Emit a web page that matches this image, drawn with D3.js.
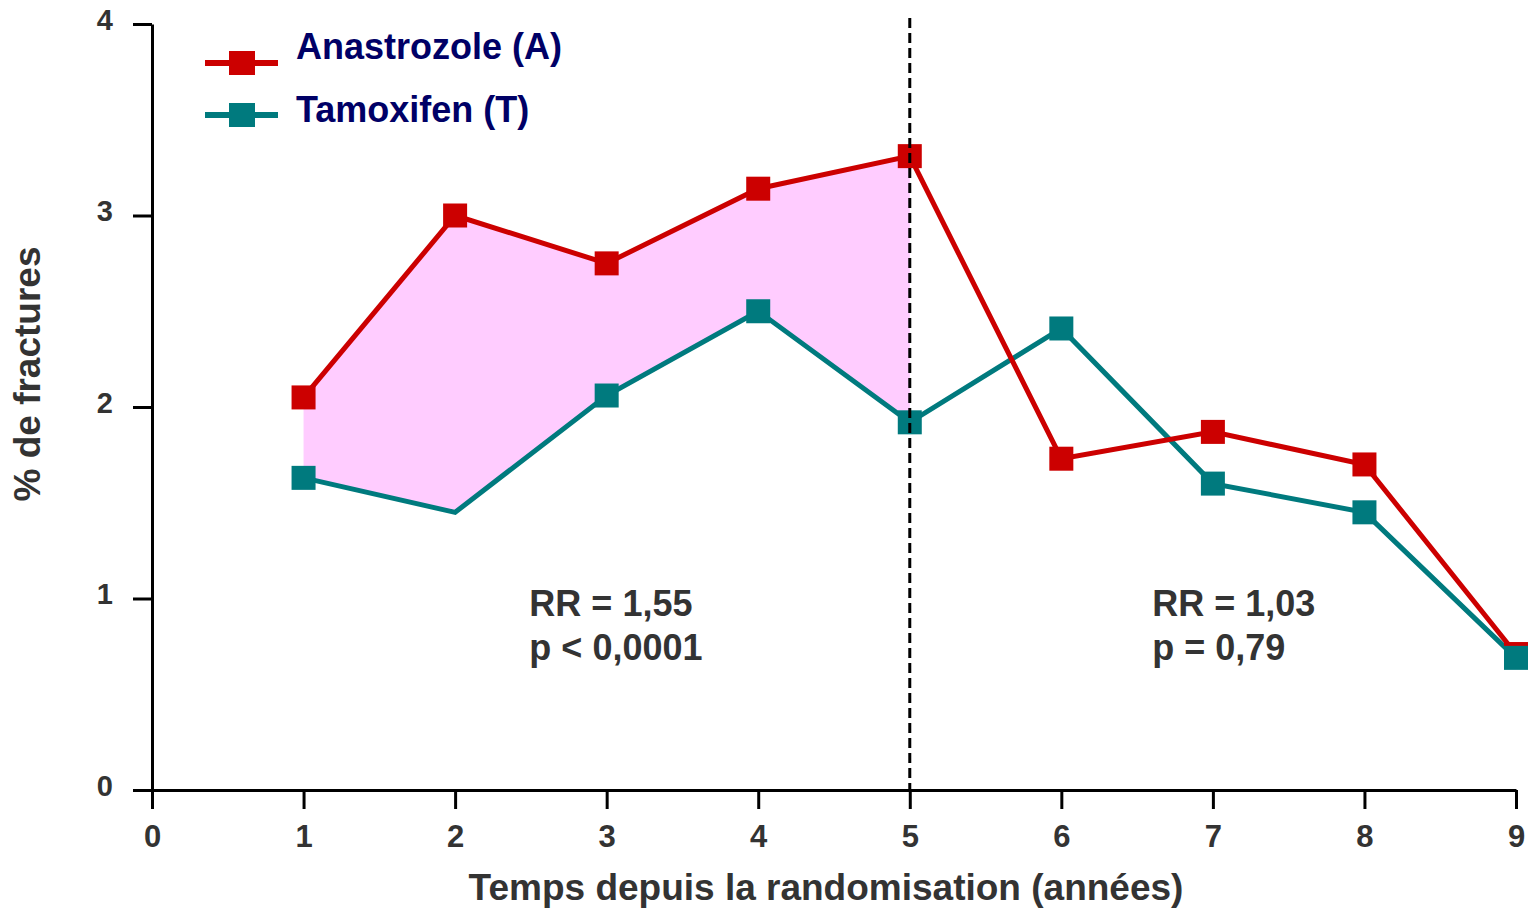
<!DOCTYPE html>
<html>
<head>
<meta charset="utf-8">
<script src="https://cdn.jsdelivr.net/npm/d3@7"></script>
<style>
  body { margin: 0; background: #fff; }
  .chart text { font-family: "Liberation Sans", Arial, sans-serif; font-weight: bold; }
</style>
</head>
<body>
<div class="chart"></div>
<script>
// data
var years = [1, 2, 3, 4, 5, 6, 7, 8, 9]
var anastrozole = [2.05, 3.0, 2.75, 3.14, 3.31, 1.73, 1.87, 1.70, 0.71]
var tamoxifen = [1.63, 1.45, 2.06, 2.50, 1.92, 2.41, 1.60, 1.45, 0.69]
var tamoxifenMarkers = [true, false, true, true, true, true, true, true, true]
var xTicks = [0, 1, 2, 3, 4, 5, 6, 7, 8, 9]
var yTicks = [0, 1, 2, 3, 4]
var legendLabels = ['Anastrozole (A)', 'Tamoxifen (T)']
var shadeYears = [1, 5]
var splitYear = 5

var margin = {top: 24, right: 14, bottom: 119, left: 152}
var width = 1530 - margin.left - margin.right
var height = 909 - margin.top - margin.bottom

var red = '#cc0000'
var teal = '#007a7e'
var grey = '#333333'

var x = d3.scaleLinear().domain([0, 9]).range([0, width])
var y = d3.scaleLinear().domain([0, 4]).range([height, 0])

var svg = d3
  .select('.chart')
  .append('svg')
  .attr('width', 1530)
  .attr('height', 909)
  .append('g')
  .attr('transform', 'translate(' + margin.left + ',' + margin.top + ')')

var dataA = years.map(function(d, i) { return {year: d, value: anastrozole[i]} })
var dataT = years.map(function(d, i) { return {year: d, value: tamoxifen[i], marker: tamoxifenMarkers[i]} })

//shaded area between the two curves for years 1-5
var inShade = function(d) { return d.year >= shadeYears[0] && d.year <= shadeYears[1] }
var shadePts = dataA.filter(inShade).concat(dataT.filter(inShade).reverse())
svg
  .append('path')
  .datum(shadePts)
  .attr('fill', '#ffccff')
  .attr('d', d3.line()
    .x(function(d) { return x(d.year) })
    .y(function(d) { return y(d.value) }))

// axes
var yAxis = svg
  .append('g')
  .call(d3.axisLeft(y).tickValues(yTicks).tickFormat(d3.format('d')).tickSize(19).tickSizeOuter(0).tickPadding(20))
var xAxis = svg
  .append('g')
  .attr('transform', 'translate(0,' + height + ')')
  .call(d3.axisBottom(x).tickValues(xTicks).tickFormat(d3.format('d')).tickSize(19).tickSizeOuter(0).tickPadding(16))
;[xAxis, yAxis].forEach(function(ax) {
  ax.selectAll('path').attr('stroke', '#000').attr('stroke-width', 3)
  ax.selectAll('line').attr('stroke', '#000').attr('stroke-width', 3)
  ax.selectAll('text').attr('fill', grey)
})
xAxis.selectAll('text').style('font-size', '31px')
yAxis.selectAll('text').style('font-size', '29px').attr('dy', '0.18em')

var line = d3
  .line()
  .x(function(d) { return x(d.year) })
  .y(function(d) { return y(d.value) })

var ms = 24
svg.append('path').datum(dataT).attr('fill', 'none').attr('stroke', teal).attr('stroke-width', 5).attr('d', line)
svg.append('path').datum(dataA).attr('fill', 'none').attr('stroke', red).attr('stroke-width', 5).attr('d', line)

svg.selectAll('.markA')
  .data(dataA)
  .enter()
  .append('rect')
  .attr('x', function(d) { return x(d.year) - ms / 2 })
  .attr('y', function(d) { return y(d.value) - ms / 2 })
  .attr('width', ms)
  .attr('height', ms)
  .attr('fill', red)
svg.selectAll('.markT')
  .data(dataT.filter(function(d) { return d.marker }))
  .enter()
  .append('rect')
  .attr('x', function(d) { return x(d.year) - ms / 2 })
  .attr('y', function(d) { return y(d.value) - ms / 2 })
  .attr('width', ms)
  .attr('height', ms)
  .attr('fill', teal)

// dashed split line
svg
  .append('line')
  .attr('x1', x(splitYear))
  .attr('x2', x(splitYear))
  .attr('y1', -6)
  .attr('y2', height)
  .attr('stroke', '#000')
  .attr('stroke-width', 3)
  .attr('stroke-dasharray', '10,5')

// annotations
var notes = [
  {year: 2.49, lines: ['RR = 1,55', 'p < 0,0001']},
  {year: 6.6, lines: ['RR = 1,03', 'p = 0,79']}
]
notes.forEach(function(n) {
  n.lines.forEach(function(t, i) {
    svg
      .append('text')
      .attr('x', x(n.year))
      .attr('y', y(0.91) + i * 44)
      .attr('fill', grey)
      .style('font-size', '36px')
      .text(t)
  })
})

// legend
var legendRows = [{lineY: 63, textY: 59}, {lineY: 115, textY: 122}]
var legend = svg.append('g').attr('transform', 'translate(' + (205 - margin.left) + ',' + -margin.top + ')')
legendLabels.forEach(function(label, i) {
  var c = i === 0 ? red : teal
  var r = legendRows[i]
  legend.append('line').attr('x1', 0).attr('x2', 73).attr('y1', r.lineY).attr('y2', r.lineY)
    .attr('stroke', c).attr('stroke-width', 6)
  legend.append('rect').attr('x', 24).attr('y', r.lineY - 12).attr('width', 26).attr('height', 24).attr('fill', c)
  legend.append('text')
    .attr('x', 91)
    .attr('y', r.textY)
    .attr('fill', '#000066')
    .style('font-size', '36px')
    .text(label)
})

// axis titles
svg
  .append('text')
  .attr('x', 826 - margin.left)
  .attr('y', 900 - margin.top)
  .attr('text-anchor', 'middle')
  .attr('fill', grey)
  .style('font-size', '37px')
  .text('Temps depuis la randomisation (années)')
svg
  .append('text')
  .attr('transform', 'translate(' + (40 - margin.left) + ',' + (374 - margin.top) + ') rotate(-90)')
  .attr('text-anchor', 'middle')
  .attr('fill', grey)
  .style('font-size', '37px')
  .text('% de fractures')
</script>
</body>
</html>
